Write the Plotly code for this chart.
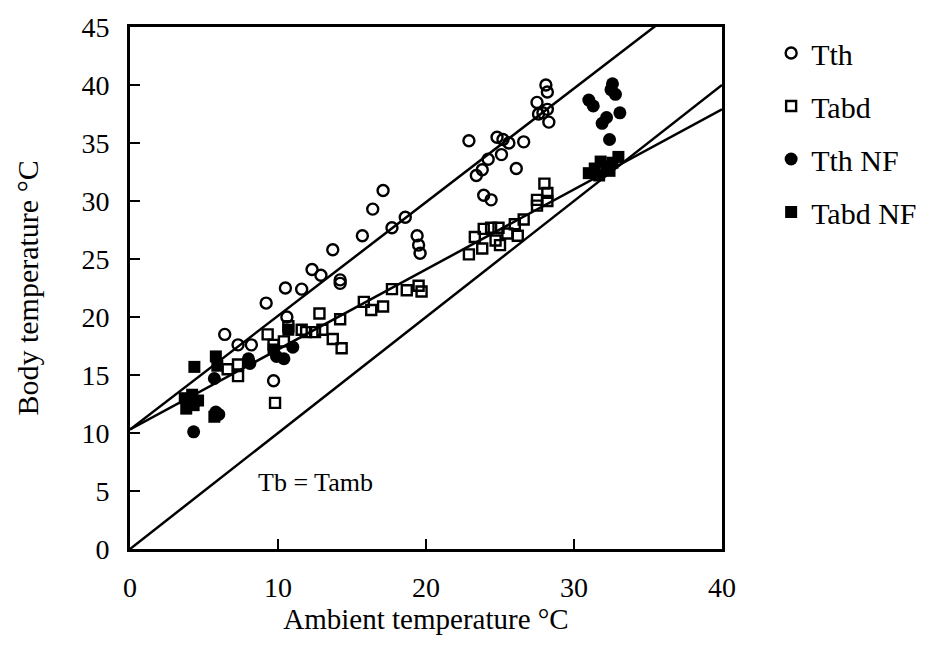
import plotly.graph_objects as go

# Thoracic (Tth) and abdominal (Tabd) body temperature vs ambient temperature
tth_x = [6.4, 7.3, 8.2, 9.2, 9.7, 10.6, 10.5, 11.6, 12.3, 12.9, 13.7, 14.2, 14.2,
         15.7, 16.4, 17.1, 17.7, 18.6, 19.4, 19.5, 19.6, 22.9, 23.4, 23.8, 24.2,
         23.9, 24.4, 24.8, 25.2, 25.6, 25.1, 26.1, 26.6, 27.5, 27.6, 27.9, 28.2,
         28.3, 28.1, 28.2]
tth_y = [18.5, 17.6, 17.6, 21.2, 14.5, 20.0, 22.5, 22.4, 24.1, 23.6, 25.8, 23.2, 22.9,
         27.0, 29.3, 30.9, 27.7, 28.6, 27.0, 26.2, 25.5, 35.2, 32.2, 32.7, 33.6,
         30.5, 30.1, 35.5, 35.3, 35.0, 34.0, 32.8, 35.1, 38.5, 37.5, 37.6, 37.9,
         36.8, 40.0, 39.4]

tabd_x = [6.6, 7.3, 7.3, 9.3, 9.7, 9.8, 10.4, 10.7, 11.6, 11.9, 12.5, 13.0, 12.8,
          13.7, 14.3, 14.2, 15.8, 16.3, 17.1, 17.7, 18.7, 19.5, 19.7, 22.9, 23.3,
          23.8, 23.9, 24.4, 24.7, 25.0, 24.9, 25.5, 26.0, 26.2, 26.6, 27.5, 27.5,
          28.2, 28.2, 28.0]
tabd_y = [15.5, 15.9, 14.9, 18.5, 17.6, 12.6, 17.9, 19.2, 18.9, 18.7, 18.7, 18.9, 20.3,
          18.1, 17.3, 19.8, 21.3, 20.6, 20.9, 22.4, 22.3, 22.7, 22.2, 25.4, 26.9,
          25.9, 27.6, 27.7, 26.6, 26.2, 27.7, 27.2, 28.0, 27.0, 28.4, 30.1, 29.6,
          30.0, 30.7, 31.5]

tth_nf_x = [4.3, 4.4, 5.7, 6.0, 5.8, 8.1, 8.0, 9.9, 10.4, 11.0, 31.0, 31.3, 32.6,
            32.5, 32.8, 33.1, 32.2, 31.9, 32.4]
tth_nf_y = [10.1, 12.7, 14.7, 11.6, 11.8, 16.0, 16.4, 16.6, 16.4, 17.4, 38.7, 38.2, 40.1,
            39.6, 39.2, 37.6, 37.2, 36.7, 35.3]

tabd_nf_x = [3.7, 4.2, 4.6, 3.8, 4.3, 4.35, 5.8, 5.9, 5.7, 9.7, 10.7, 31.0, 31.4,
             31.7, 31.8, 32.2, 32.4, 32.6, 33.0]
tabd_nf_y = [13.0, 13.3, 12.8, 12.1, 12.4, 15.7, 16.6, 15.8, 11.4, 17.2, 18.9, 32.4, 32.8,
             32.2, 33.4, 33.0, 32.6, 33.3, 33.8]

# Fitted lines and the Tb = Tamb identity line (end points)
line_x = [0, 40]
tth_fit_y = [10.3, 49.5]
tabd_fit_y = [10.3, 37.9]
identity_y = [0, 40]

x_ticks = [0, 10, 20, 30, 40]
y_ticks = [0, 5, 10, 15, 20, 25, 30, 35, 40, 45]

SERIF = "Liberation Serif, Times New Roman, serif"
BLACK = "#000000"

fig = go.Figure()

for ly in (tth_fit_y, tabd_fit_y, identity_y):
    fig.add_trace(go.Scatter(x=line_x, y=ly, mode="lines",
                             line=dict(color=BLACK, width=2.5),
                             showlegend=False, hoverinfo="skip"))

fig.add_trace(go.Scatter(x=tth_x, y=tth_y, mode="markers", name="Tth", legendgroup="a",
                         marker=dict(symbol="circle-open", size=11, color=BLACK,
                                     line=dict(width=2.4, color=BLACK))))
fig.add_trace(go.Scatter(x=tabd_x, y=tabd_y, mode="markers", name="Tabd", legendgroup="b",
                         marker=dict(symbol="square-open", size=10, color=BLACK,
                                     line=dict(width=2.4, color=BLACK))))
fig.add_trace(go.Scatter(x=tth_nf_x, y=tth_nf_y, mode="markers", name="Tth NF", legendgroup="c",
                         marker=dict(symbol="circle", size=13, color=BLACK)))
fig.add_trace(go.Scatter(x=tabd_nf_x, y=tabd_nf_y, mode="markers", name="Tabd NF", legendgroup="d",
                         marker=dict(symbol="square", size=12, color=BLACK)))

fig.add_annotation(x=8.5, y=5.7, xref="x", yref="y", text="Tb = Tamb", showarrow=False,
                   xanchor="left", yanchor="middle", font=dict(family=SERIF, size=26, color=BLACK))

axis_common = dict(showline=True, linecolor=BLACK, linewidth=3, mirror=True,
                   ticks="inside", tickcolor=BLACK, tickwidth=2, ticklen=10,
                   showgrid=False, zeroline=False,
                   tickfont=dict(family=SERIF, size=28, color=BLACK))

fig.update_xaxes(range=[0, 40], tickvals=x_ticks, ticklabelstandoff=11,
                 title=dict(text="Ambient temperature °C", standoff=8,
                            font=dict(family=SERIF, size=29, color=BLACK)),
                 **axis_common)
fig.update_yaxes(range=[0, 45], tickvals=y_ticks, ticklabelstandoff=12,
                 title=dict(text="Body temperature °C", standoff=34,
                            font=dict(family=SERIF, size=30, color=BLACK)),
                 **axis_common)

fig.update_layout(
    width=934, height=647,
    margin=dict(l=130, r=211, t=19, b=98),
    paper_bgcolor="white", plot_bgcolor="white",
    showlegend=True,
    legend=dict(x=1.083, y=1.0, xanchor="left", yanchor="top",
                traceorder="grouped", tracegroupgap=11,
                bgcolor="rgba(0,0,0,0)", borderwidth=0,
                font=dict(family=SERIF, size=30, color=BLACK)),
)

fig.write_html("out.html")
